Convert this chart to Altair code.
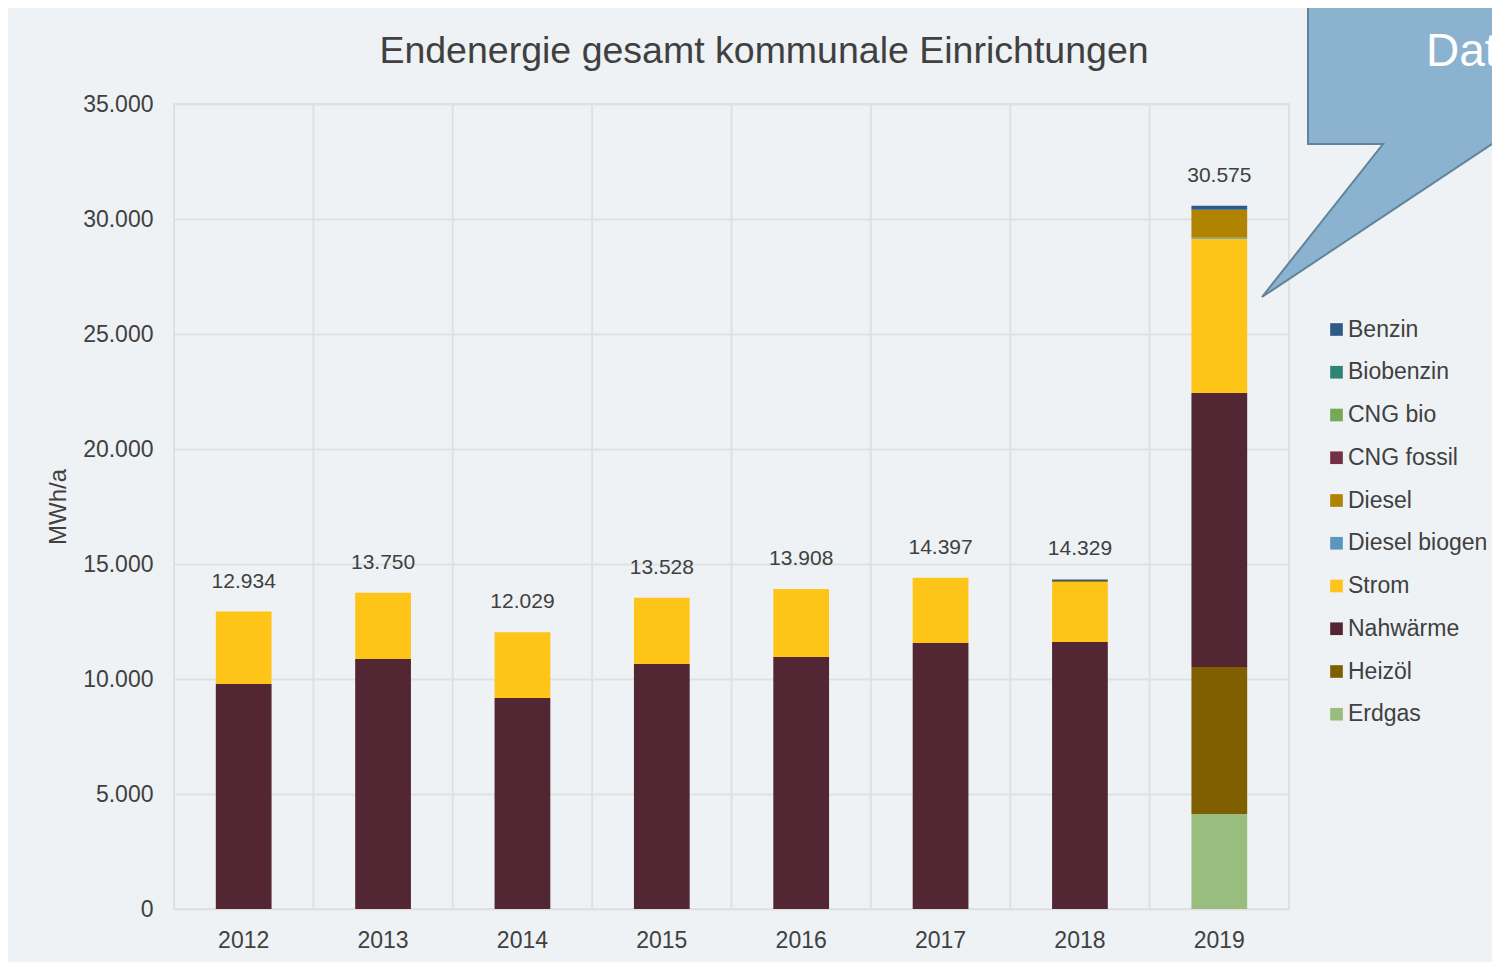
import altair as alt
import pandas as pd

# ---------------- data ----------------
years = ["2012", "2013", "2014", "2015", "2016", "2017", "2018", "2019"]
totals = [12934, 13750, 12029, 13528, 13908, 14397, 14329, 30575]

erdgas = [0, 0, 0, 0, 0, 0, 0, 4130]
heizoel = [0, 0, 0, 0, 0, 0, 0, 6390]
nahwaerme = [9780, 10870, 9175, 10650, 10955, 11565, 11610, 11913]
strom = [3154, 2880, 2854, 2878, 2953, 2832, 2609, 6705]
diesel_biogen = [0, 0, 0, 0, 0, 0, 0, 50]
diesel = [0, 0, 0, 0, 0, 0, 40, 1217]
cng_fossil = [0, 0, 0, 0, 0, 0, 0, 0]
cng_bio = [0, 0, 0, 0, 0, 0, 0, 0]
biobenzin = [0, 0, 0, 0, 0, 0, 0, 0]
benzin = [0, 0, 0, 0, 0, 0, 70, 170]

# stacking order, bottom to top
stack_names = ["Erdgas", "Heizöl", "Nahwärme", "Strom", "Diesel biogen",
               "Diesel", "CNG fossil", "CNG bio", "Biobenzin", "Benzin"]
stack_values = [erdgas, heizoel, nahwaerme, strom, diesel_biogen,
                diesel, cng_fossil, cng_bio, biobenzin, benzin]

legend_order = ["Benzin", "Biobenzin", "CNG bio", "CNG fossil", "Diesel",
                "Diesel biogen", "Strom", "Nahwärme", "Heizöl", "Erdgas"]
legend_colors = ["#2E5A87", "#2E8577", "#76A856", "#722F45", "#B08300",
                 "#5B96C0", "#FFC418", "#532633", "#7F5F00", "#99BD7E"]

title_text = "Endenergie gesamt kommunale Einrichtungen"
y_title = "MWh/a"
callout_lines = ["umfassende", "Daten"]

rows = []
for rank, (name, vals) in enumerate(zip(stack_names, stack_values)):
    for yr, v in zip(years, vals):
        if v > 0:
            rows.append({"Jahr": yr, "Energieträger": name, "MWh": v, "rank": rank})
df = pd.DataFrame(rows)
df_tot = pd.DataFrame({"Jahr": years, "total": totals})

# ---------------- layout ----------------
W, H = 1115, 805
FONT = "Liberation Sans"
TXT = "#404040"
GRID = "#E0E0E0"

x_scale = alt.Scale(paddingInner=0, paddingOuter=0)
x_axis = alt.Axis(title=None, labelAngle=0, labelAlign="center",
                  labelBaseline="top", labelFontSize=23,
                  labelColor=TXT, labelPadding=20, ticks=False,
                  tickSize=0, domain=False, grid=False)

y_scale = alt.Scale(domain=[0, 35000], nice=False)
y_axis = alt.Axis(title=y_title, values=list(range(0, 35001, 5000)),
                  labelExpr="replace(format(datum.value, ','), ',', '.')",
                  labelFontSize=23, labelColor=TXT, labelPadding=21,
                  labelAlign="right", labelBaseline="middle",
                  ticks=False, tickSize=0, domain=False,
                  grid=True, gridColor=GRID, gridWidth=2,
                  titleFontSize=24, titleFontWeight="normal",
                  titleColor=TXT, titleX=-116, titleY=H / 2,
                  titleAlign="center", titleBaseline="middle",
                  titleAngle=270)

vrules = alt.Chart(pd.DataFrame({"Jahr": years[1:]})).mark_rule(
    color=GRID, strokeWidth=2
).encode(x=alt.X("Jahr:O", sort=years, bandPosition=0,
                 scale=x_scale, axis=x_axis))

bars = alt.Chart(df).mark_bar(width=alt.RelativeBandSize(0.4)).encode(
    x=alt.X("Jahr:O", sort=years, scale=x_scale, axis=x_axis),
    y=alt.Y("MWh:Q", stack="zero", scale=y_scale, axis=y_axis),
    color=alt.Color("Energieträger:N",
                    scale=alt.Scale(domain=legend_order, range=legend_colors),
                    legend=alt.Legend(title=None, orient="none",
                                      legendX=1151, legendY=214,
                                      symbolType="square", symbolSize=160,
                                      symbolStrokeWidth=0,
                                      labelFontSize=23, labelColor=TXT,
                                      labelOffset=0, rowPadding=18.75,
                                      padding=0)),
    order=alt.Order("rank:Q", sort="ascending"),
)

labels = alt.Chart(df_tot).transform_calculate(
    lbl="replace(format(datum.total, ','), ',', '.')"
).mark_text(fontSize=21, color=TXT, baseline="middle", dy=-30).encode(
    x=alt.X("Jahr:O", sort=years, scale=x_scale, axis=x_axis),
    y=alt.Y("total:Q", scale=y_scale, axis=y_axis),
    text="lbl:N",
)

title = alt.Chart(pd.DataFrame({"t": [title_text]})).mark_text(
    fontSize=37.5, color=TXT, align="center", baseline="middle"
).encode(x=alt.value(590), y=alt.value(-52), text="t:N")

callout_path = "M0,-150 L420,-150 L420,0 L184,0 L-46,153 L75,0 L0,0 Z"
callout = alt.Chart(pd.DataFrame({"k": [0]})).mark_point(
    shape=callout_path, size=4, filled=True, fill="#8BB3CF",
    stroke="#62849B", strokeWidth=2, opacity=1
).encode(x=alt.value(1134), y=alt.value(40))

callout_txt = alt.Chart(pd.DataFrame({
    "t": callout_lines, "px": [1226, 1252], "py": [-98, -38]
})).mark_text(fontSize=46, color="white", align="left",
              baseline="alphabetic").encode(
    x=alt.X("px:Q", scale=None), y=alt.Y("py:Q", scale=None), text="t:N")

chart = alt.layer(vrules, bars, labels, title, callout, callout_txt).properties(
    width=W, height=H,
    autosize=alt.AutoSizeParams(type="none"),
    padding={"left": 166, "top": 96, "right": 203, "bottom": 53},
    background="#EEF2F5",
).configure(font=FONT).configure_view(
    stroke=GRID, strokeWidth=2
)

chart.save("out.html", embed_options={"renderer": "svg", "actions": False})
